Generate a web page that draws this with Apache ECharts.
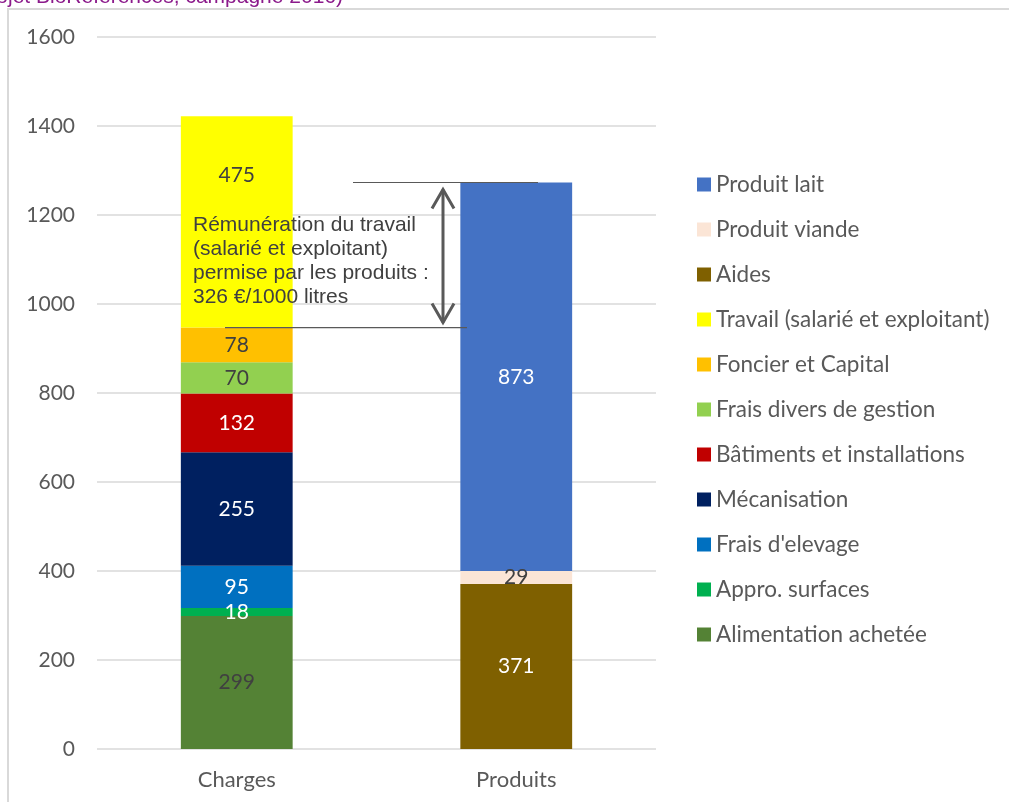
<!DOCTYPE html>
<html>
<head>
<meta charset="utf-8">
<script src="https://cdn.jsdelivr.net/npm/echarts@6/dist/echarts.min.js"></script>
<style>
  html, body { margin: 0; padding: 0; background: #fff; }
  #chart { width: 1009px; height: 802px; }
</style>
</head>
<body>
<div id="chart"></div>
<script>
// Coûts de production et produits, en €/1000 litres
const categories = ['Charges', 'Produits'];

const chargeNames = ['Alimentation achetée', 'Appro. surfaces', "Frais d'elevage", 'Mécanisation',
  'Bâtiments et installations', 'Frais divers de gestion', 'Foncier et Capital', 'Travail (salarié et exploitant)'];
const chargeValues = [299, 18, 95, 255, 132, 70, 78, 475];
const chargeColors = ['#548235', '#00B050', '#0070C0', '#002060', '#C00000', '#92D050', '#FFC000', '#FFFF00'];
const chargeLabelColors = ['#404040', '#ffffff', '#ffffff', '#ffffff', '#ffffff', '#404040', '#404040', '#404040'];

const produitNames = ['Aides', 'Produit viande', 'Produit lait'];
const produitValues = [371, 29, 873];
const produitColors = ['#7F6000', '#FBE5D6', '#4472C4'];
const produitLabelColors = ['#ffffff', '#404040', '#ffffff'];

const legendOrder = ['Produit lait', 'Produit viande', 'Aides', 'Travail (salarié et exploitant)',
  'Foncier et Capital', 'Frais divers de gestion', 'Bâtiments et installations', 'Mécanisation',
  "Frais d'elevage", 'Appro. surfaces', 'Alimentation achetée'];

const yTicks = { min: 0, max: 1600, interval: 200 };

const annotationText = 'Rémunération du travail\n(salarié et exploitant)\npermise par les produits :\n326 €/1000 litres';
const sourceText = '(projet BioRéférences, campagne 2016)';

const FONT = 'Lato';

function makeSeries(name, value, colIndex, color, labelColor) {
  const data = categories.map((c, i) => (i === colIndex ? value : '-'));
  return {
    name: name,
    type: 'bar',
    stack: 'total',
    barWidth: '40%',
    data: data,
    itemStyle: { color: color },
    label: {
      show: true,
      position: 'inside',
      color: labelColor,
      fontFamily: FONT,
      fontSize: 21,
      formatter: p => String(p.value)
    },
    emphasis: { disabled: true }
  };
}

const series = [];
chargeNames.forEach((n, i) => series.push(makeSeries(n, chargeValues[i], 0, chargeColors[i], chargeLabelColors[i])));
produitNames.forEach((n, i) => series.push(makeSeries(n, produitValues[i], 1, produitColors[i], produitLabelColors[i])));
// the labour label sits in the upper part of its segment, clear of the note
series[chargeNames.length - 1].label.offset = [0, -47];

const chart = echarts.init(document.getElementById('chart'), null, { renderer: 'canvas' });

chart.setOption({
  animation: false,
  backgroundColor: '#ffffff',
  grid: { left: 97, right: 353, top: 37, bottom: 53, containLabel: false },
  xAxis: {
    type: 'category',
    data: categories,
    axisLine: { show: false },
    axisTick: { show: false },
    axisLabel: { color: '#595959', fontFamily: FONT, fontSize: 22, margin: 20 }
  },
  yAxis: {
    type: 'value',
    min: yTicks.min,
    max: yTicks.max,
    interval: yTicks.interval,
    axisLine: { show: false },
    axisTick: { show: false },
    axisLabel: { color: '#595959', fontFamily: FONT, fontSize: 21, margin: 22, formatter: v => String(v) },
    splitLine: { lineStyle: { color: '#D9D9D9', width: 1.5 } }
  },
  legend: {
    orient: 'vertical',
    left: 692,
    top: 168,
    itemWidth: 14,
    itemHeight: 14,
    itemGap: 22,
    icon: 'rect',
    data: legendOrder,
    selectedMode: false,
    textStyle: { color: '#595959', fontFamily: FONT, fontSize: 22.5, lineHeight: 23 }
  },
  series: series
});

// Annotation: gap between total products and charges excluding labour
const chargesHorsTravail = chargeValues.slice(0, -1).reduce((a, b) => a + b, 0);
const totalProduits = produitValues.reduce((a, b) => a + b, 0);
const yTop = chart.convertToPixel({ yAxisIndex: 0 }, totalProduits);
const yBot = chart.convertToPixel({ yAxisIndex: 0 }, chargesHorsTravail);
const arrowX = 443;
const lineCol = '#595959';

chart.setOption({
  graphic: [
    {
      type: 'rect', silent: true, z: 0,
      shape: { x: 8, y: 9, width: 1100, height: 900 },
      style: { fill: null, stroke: '#D9D9D9', lineWidth: 2 }
    },
    {
      type: 'text', silent: true,
      x: 343, y: 8,
      style: { text: sourceText, fill: '#8B1A8B', font: '21px "Liberation Sans"', align: 'right', verticalAlign: 'bottom' }
    },
    {
      type: 'line', silent: true, z: 10,
      shape: { x1: 353, y1: yTop, x2: 538, y2: yTop },
      style: { stroke: lineCol, lineWidth: 1.2 }
    },
    {
      type: 'line', silent: true, z: 10,
      shape: { x1: 225, y1: yBot, x2: 467, y2: yBot },
      style: { stroke: lineCol, lineWidth: 1.2 }
    },
    {
      type: 'line', silent: true, z: 10,
      shape: { x1: arrowX, y1: yTop + 7, x2: arrowX, y2: yBot - 5 },
      style: { stroke: lineCol, lineWidth: 3 }
    },
    {
      type: 'polyline', silent: true, z: 10,
      shape: { points: [[arrowX - 11, yTop + 26], [arrowX, yTop + 7], [arrowX + 11, yTop + 26]] },
      style: { stroke: lineCol, lineWidth: 3, fill: null }
    },
    {
      type: 'polyline', silent: true, z: 10,
      shape: { points: [[arrowX - 11, yBot - 24], [arrowX, yBot - 5], [arrowX + 11, yBot - 24]] },
      style: { stroke: lineCol, lineWidth: 3, fill: null }
    },
    {
      type: 'text', silent: true, z: 10,
      x: 193, y: 213,
      style: { text: annotationText, fill: '#404040', font: '21px "Liberation Sans"', lineHeight: 24 }
    }
  ]
});
</script>
</body>
</html>
